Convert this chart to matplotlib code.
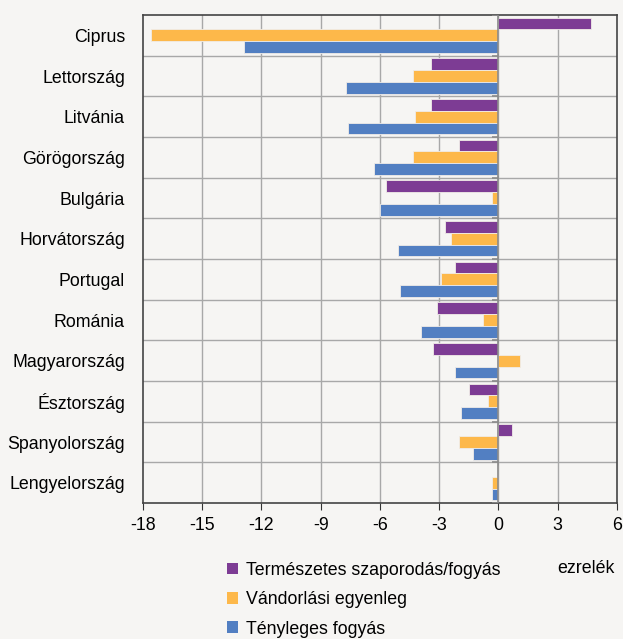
import numpy as np
import matplotlib
matplotlib.use('Agg')
import matplotlib.pyplot as plt
from matplotlib.patches import Patch

countries = ["Ciprus", "Lettország", "Litvánia", "Görögország", "Bulgária",
             "Horvátország", "Portugal", "Románia", "Magyarország",
             "Észtország", "Spanyolország", "Lengyelország"]
termeszetes = [4.7, -3.4, -3.4, -2.0, -5.7, -2.7, -2.2, -3.1, -3.3, -1.5, 0.7, 0.0]
vandorlasi  = [-17.6, -4.3, -4.2, -4.3, -0.3, -2.4, -2.9, -0.8, 1.1, -0.5, -2.0, -0.3]
tenyleges   = [-12.9, -7.7, -7.6, -6.3, -6.0, -5.1, -5.0, -3.9, -2.2, -1.9, -1.3, -0.3]
labels = ["Természetes szaporodás/fogyás", "Vándorlási egyenleg", "Tényleges fogyás"]
colors = ["#7d3c94", "#fdb84a", "#527fc2"]
xticks = [-18, -15, -12, -9, -6, -3, 0, 3, 6]

plt.rcParams['font.family'] = ['Liberation Sans', 'DejaVu Sans']
bg = "#f6f5f3"
fs = 12.8
fig = plt.figure(figsize=(6.23, 6.39), dpi=100, facecolor=bg)
ax = fig.add_axes([0.2295, 0.2128, 0.7605, 0.7637], facecolor=bg)

y = np.arange(len(countries))
h = 0.29
for i, (vals, lab, c) in enumerate(zip([termeszetes, vandorlasi, tenyleges], labels, colors)):
    ax.barh(y + (i - 1) * h, vals, height=h, color=c, label=lab,
            edgecolor="#f0ece8", linewidth=0.6, zorder=3)

ax.set_xlim(-18, 6)
ax.set_ylim(len(countries) - 0.5, -0.5)
ax.set_xticks(xticks)
ax.set_xticklabels([str(t) for t in xticks], fontsize=fs)
ax.set_yticks(y)
ax.set_yticklabels(countries, fontsize=fs)
ax.tick_params(axis='y', length=0, pad=13)
ax.tick_params(axis='x', length=5, direction='out', color='#333333', pad=5)

# grid: vertical at ticks, horizontal between categories
for t in xticks[1:-1]:
    ax.axvline(t, color='#a8a8a8', lw=1, zorder=1)
for b in np.arange(len(countries) + 1)[1:-1] - 0.5:
    ax.axhline(b, color='#a8a8a8', lw=1, zorder=1)
ax.axvline(0, color='#8a8a8a', lw=1.2, zorder=4)
ax.hlines(np.arange(len(countries) + 1) - 0.5, -0.3, 0, color='#8a8a8a', lw=1.2, zorder=4)

for s in ax.spines.values():
    s.set_color('#444444')
    s.set_linewidth(1.2)

fig.text(0.987, 0.110, "ezrelék", ha='right', va='center', fontsize=fs)

handles = [Patch(facecolor=c, label=l) for c, l in zip(colors, labels)]
fig.legend(handles=handles, loc='upper left', bbox_to_anchor=(0.364, 0.121),
           frameon=False, fontsize=fs, handlelength=0.65, handleheight=0.65,
           handletextpad=0.45, labelspacing=0.7, borderpad=0, borderaxespad=0)

fig.savefig("out.png", dpi=100, facecolor=bg)
